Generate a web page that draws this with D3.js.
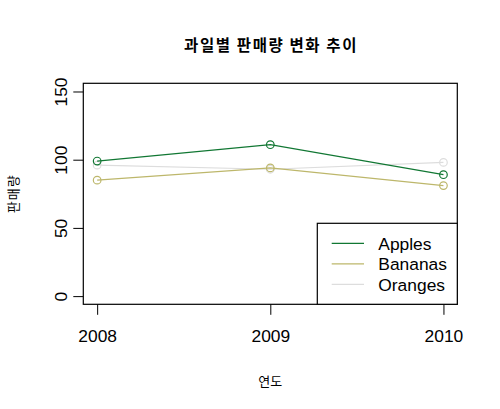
<!DOCTYPE html>
<html>
<head>
<meta charset="utf-8">
<script src="https://cdn.jsdelivr.net/npm/d3@7"></script>
<style>
  body { margin: 0; background: #fff; }
  text { font-family: "Liberation Sans", Arial, sans-serif; }
  .kr { font-family: "Noto Sans CJK KR", sans-serif; }
</style>
</head>
<body>
<div id="chart"></div>
<script>
// ---- data ----
var years = [2008, 2009, 2010];
var apples = [99, 111, 89];
var bananas = [85, 94, 81];
var oranges = [96, 93, 98];
var seriesNames = ['Apples', 'Bananas', 'Oranges'];
var seriesColors = ['#117733', '#bdb76b', '#dddddd'];
var yTicks = [0, 50, 100, 150];
var titleText = '과일별 판매량 변화 추이';
var xLabel = '연도';
var yLabel = '판매량';

var attrs = {
  svgWidth: 500,
  svgHeight: 409,
  marginTop: 83.3,
  marginBottom: 104.7,
  marginRight: 42.7,
  marginLeft: 83.3
};

var calc = {};
calc.chartWidth = attrs.svgWidth - attrs.marginLeft - attrs.marginRight;
calc.chartHeight = attrs.svgHeight - attrs.marginTop - attrs.marginBottom;

var allSeries = [apples, bananas, oranges];

// R style 4% axis extension
var scales = {};
scales.x = d3.scaleLinear()
  .domain([years[0] - 0.08, years[years.length - 1] + 0.08])
  .range([0, calc.chartWidth]);
scales.y = d3.scaleLinear()
  .domain([-6, 156])
  .range([calc.chartHeight, 0]);

var svg = d3.select('#chart').append('svg')
  .attr('width', attrs.svgWidth)
  .attr('height', attrs.svgHeight);

var chart = svg.append('g')
  .attr('transform', 'translate(' + attrs.marginLeft + ',' + attrs.marginTop + ')');

// lines + points
var line = d3.line()
  .x(function (d, i) { return scales.x(years[i]); })
  .y(function (d) { return scales.y(d); });

var order = [2, 1, 0]; // draw oranges first so apples sits on top
order.forEach(function (s) {
  chart.append('path')
    .datum(allSeries[s])
    .attr('d', line)
    .attr('fill', 'none')
    .attr('stroke', seriesColors[s])
    .attr('stroke-width', 1.2);
  chart.selectAll('.pt' + s)
    .data(allSeries[s])
    .enter().append('circle')
    .attr('class', 'pt' + s)
    .attr('cx', function (d, i) { return scales.x(years[i]); })
    .attr('cy', function (d) { return scales.y(d); })
    .attr('r', 3.8)
    .attr('fill', 'none')
    .attr('stroke', seriesColors[s])
    .attr('stroke-width', 1.2);
});

// axes
var axes = {};
axes.bottom = d3.axisBottom(scales.x).tickValues(years).tickFormat(d3.format('d'))
  .tickSize(10.5).tickPadding(0);
axes.left = d3.axisLeft(scales.y).tickValues(yTicks).tickSize(10).tickPadding(0);

var bottomAxis = chart.append('g')
  .attr('transform', 'translate(0,' + calc.chartHeight + ')')
  .call(axes.bottom);
bottomAxis.select('.domain').remove();
bottomAxis.selectAll('line').attr('stroke', '#000');
bottomAxis.selectAll('text')
  .attr('y', 37.7)
  .attr('dy', 0)
  .attr('fill', '#000')
  .style('font-size', '17.4px')
  .style('font-family', '"Liberation Sans", Arial, sans-serif');

var leftAxis = chart.append('g').call(axes.left);
leftAxis.select('.domain').remove();
leftAxis.selectAll('line').attr('stroke', '#000');
leftAxis.selectAll('text')
  .attr('x', 0)
  .attr('dy', 0)
  .attr('text-anchor', 'middle')
  .attr('transform', 'translate(-22.7,0) rotate(-90) translate(0,6.3)')
  .attr('fill', '#000')
  .style('font-size', '17.4px')
  .style('font-family', '"Liberation Sans", Arial, sans-serif');

// plot box
chart.append('rect')
  .attr('width', calc.chartWidth)
  .attr('height', calc.chartHeight)
  .attr('fill', 'none')
  .attr('stroke', '#000')
  .attr('stroke-width', 1.2);

// legend (bottom right)
var legend = chart.append('g')
  .attr('transform', 'translate(' + (calc.chartWidth - 140) + ',' + (calc.chartHeight - 81) + ')');
legend.append('rect')
  .attr('width', 140)
  .attr('height', 81)
  .attr('fill', '#fff')
  .attr('stroke', '#000')
  .attr('stroke-width', 1.2);
seriesNames.forEach(function (name, i) {
  var y = 20 + i * 20.5;
  legend.append('line')
    .attr('x1', 14.4).attr('x2', 46.7)
    .attr('y1', y).attr('y2', y)
    .attr('stroke', seriesColors[i])
    .attr('stroke-width', 1.2);
  legend.append('text')
    .attr('x', 61)
    .attr('y', y)
    .attr('dy', '0.36em')
    .style('font-size', '17.4px')
    .text(name);
});

// titles
svg.append('text')
  .attr('class', 'kr')
  .attr('x', attrs.marginLeft + calc.chartWidth / 2 + 0.8)
  .attr('y', 51)
  .attr('text-anchor', 'middle')
  .style('font-size', '15.5px')
  .style('font-weight', 'bold')
  .style('letter-spacing', '1.6px')
  .text(titleText);

svg.append('text')
  .attr('class', 'kr')
  .attr('x', attrs.marginLeft + calc.chartWidth / 2)
  .attr('y', 385.5)
  .attr('text-anchor', 'middle')
  .style('font-size', '13px')
  .text(xLabel);

svg.append('text')
  .attr('class', 'kr')
  .attr('transform', 'translate(13.5,' + (attrs.marginTop + calc.chartHeight / 2) + ') rotate(-90)')
  .attr('dy', '0.36em')
  .attr('text-anchor', 'middle')
  .style('font-size', '13px')
  .style('letter-spacing', '1px')
  .text(yLabel);
</script>
</body>
</html>
